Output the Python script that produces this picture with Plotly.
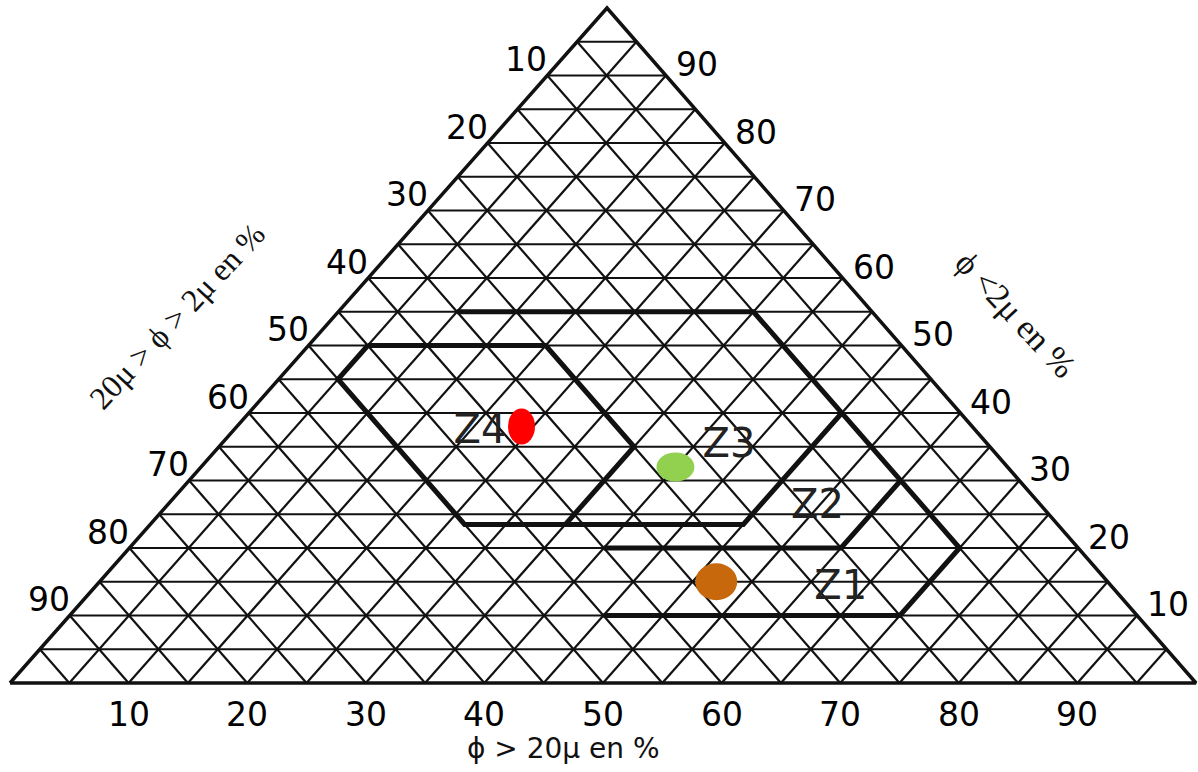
import plotly.graph_objects as go

# ---------------- data ----------------
grid_values = list(range(5, 100, 5))          # grid every 5 %
sand_ticks = [10, 20, 30, 40, 50, 60, 70, 80, 90]   # bottom axis  (phi > 20 micron)
silt_ticks = [10, 20, 30, 40, 50, 60, 70, 80, 90]   # left axis    (20 > phi > 2 micron)
clay_ticks = [10, 20, 30, 40, 50, 60, 70, 80, 90]   # right axis   (phi < 2 micron)

bottom_title = "ϕ > 20μ en %"
left_title = "20μ > ϕ > 2μ en %"
right_title = "ϕ <2μ en %"

# zone boundaries, as (sand %, clay %) vertices
z4_sand = [5, 20, 35, 35, 26.5, 5, 5]
z4_clay = [50, 50, 35, 23.5, 23.5, 45, 50]
outer_sand = [10, 35, 70, 70, 45]
outer_clay = [55, 55, 20, 10, 10]
z3z2_sand = [50, 50, 35]
z3z2_clay = [40, 23.5, 23.5]
z2z1_sand = [60, 60, 40]
z2z1_clay = [30, 20, 20]

zone_names = ["Z1", "Z2", "Z3", "Z4"]
zone_label_sand = [63, 55, 43, 21]
zone_label_clay = [14, 26, 35, 37]

# samples
sample_sand = [24, 40, 52]
sample_clay = [38, 32, 15]
sample_colors = ["#ff0000", "#92d050", "#c8680c"]
sample_w = [27, 38, 42]
sample_h = [36, 29, 37]

# ---------------- geometry ----------------
APEX = 597 / 1186  # horizontal position of the top vertex along the base


def tx(sand, clay):
    return [None if s is None else s / 100 + APEX * c / 100 for s, c in zip(sand, clay)]


def ty(clay):
    return [None if c is None else c / 100 for c in clay]


fig = go.Figure()

# grid
gs, gc = [], []
for v in grid_values:
    gs += [0, 100 - v, None]; gc += [v, v, None]          # constant clay
    gs += [v, v, None]; gc += [0, 100 - v, None]          # constant sand
    gs += [100 - v, 0, None]; gc += [0, 100 - v, None]    # constant silt
fig.add_trace(go.Scatter(x=tx(gs, gc), y=ty(gc), mode="lines",
                         line=dict(color="#111111", width=2.2), hoverinfo="skip"))

# zone lines
for s_, c_ in [(z4_sand, z4_clay), (outer_sand, outer_clay),
               (z3z2_sand, z3z2_clay), (z2z1_sand, z2z1_clay)]:
    fig.add_trace(go.Scatter(x=tx(s_, c_), y=ty(c_), mode="lines",
                             line=dict(color="#111111", width=5), hoverinfo="skip"))

# outline
os_ = [0, 100, 0, 0]
oc_ = [0, 0, 100, 0]
fig.add_trace(go.Scatter(x=tx(os_, oc_), y=ty(oc_), mode="lines",
                         line=dict(color="#111111", width=3.5), hoverinfo="skip"))

# zone labels
fig.add_trace(go.Scatter(x=tx(zone_label_sand, zone_label_clay), y=ty(zone_label_clay),
                         mode="text", text=zone_names,
                         textfont=dict(family="DejaVu Sans", size=40, color="#222222"),
                         hoverinfo="skip"))

# samples as ellipses anchored at data positions
shapes = []
for s, c, col, w, h in zip(sample_sand, sample_clay, sample_colors, sample_w, sample_h):
    shapes.append(dict(type="circle", xref="x", yref="y",
                       xsizemode="pixel", ysizemode="pixel",
                       xanchor=tx([s], [c])[0], yanchor=c / 100,
                       x0=-w / 2, x1=w / 2, y0=-h / 2, y1=h / 2,
                       fillcolor=col, line=dict(width=0), layer="above"))

ann = []
tick_font = dict(family="DejaVu Sans", size=33, color="#000000")
for v in sand_ticks:
    ann.append(dict(x=tx([v], [0])[0], y=0, text=str(v), showarrow=False,
                    xanchor="center", yanchor="middle", yshift=-31, font=tick_font))
for v in silt_ticks:
    ann.append(dict(x=tx([0], [100 - v])[0], y=(100 - v) / 100, text=str(v), showarrow=False,
                    xanchor="right", yanchor="middle", xshift=2, yshift=16, font=tick_font))
for v in clay_ticks:
    ann.append(dict(x=tx([100 - v], [v])[0], y=v / 100, text=str(v), showarrow=False,
                    xanchor="left", yanchor="middle", xshift=8, yshift=11, font=tick_font))

ann.append(dict(xref="paper", yref="paper", x=563 / 1198, y=1 - 748 / 772, text=bottom_title,
                showarrow=False, xanchor="center", yanchor="middle",
                font=dict(family="DejaVu Sans", size=28, color="#111111")))
ann.append(dict(xref="paper", yref="paper", x=177 / 1198, y=1 - 316 / 772, text=left_title,
                showarrow=False, xanchor="center", yanchor="middle", textangle=-47,
                font=dict(family="Liberation Serif", size=32, color="#111111")))
ann.append(dict(xref="paper", yref="paper", x=1016 / 1198, y=1 - 314 / 772, text=right_title,
                showarrow=False, xanchor="center", yanchor="middle", textangle=47,
                font=dict(family="Liberation Serif", size=34, color="#111111")))

fig.update_layout(
    width=1198, height=772,
    margin=dict(l=0, r=0, t=0, b=0),
    paper_bgcolor="white", plot_bgcolor="white",
    showlegend=False,
    xaxis=dict(range=[-10 / 1186, 1188 / 1186], visible=False, fixedrange=True),
    yaxis=dict(range=[-89 / 675, 683 / 675], visible=False, fixedrange=True),
    shapes=shapes, annotations=ann,
)

fig.write_html("out.html", config={"displayModeBar": False},
               post_script="document.body.style.margin='0';document.body.style.overflow='hidden';")
